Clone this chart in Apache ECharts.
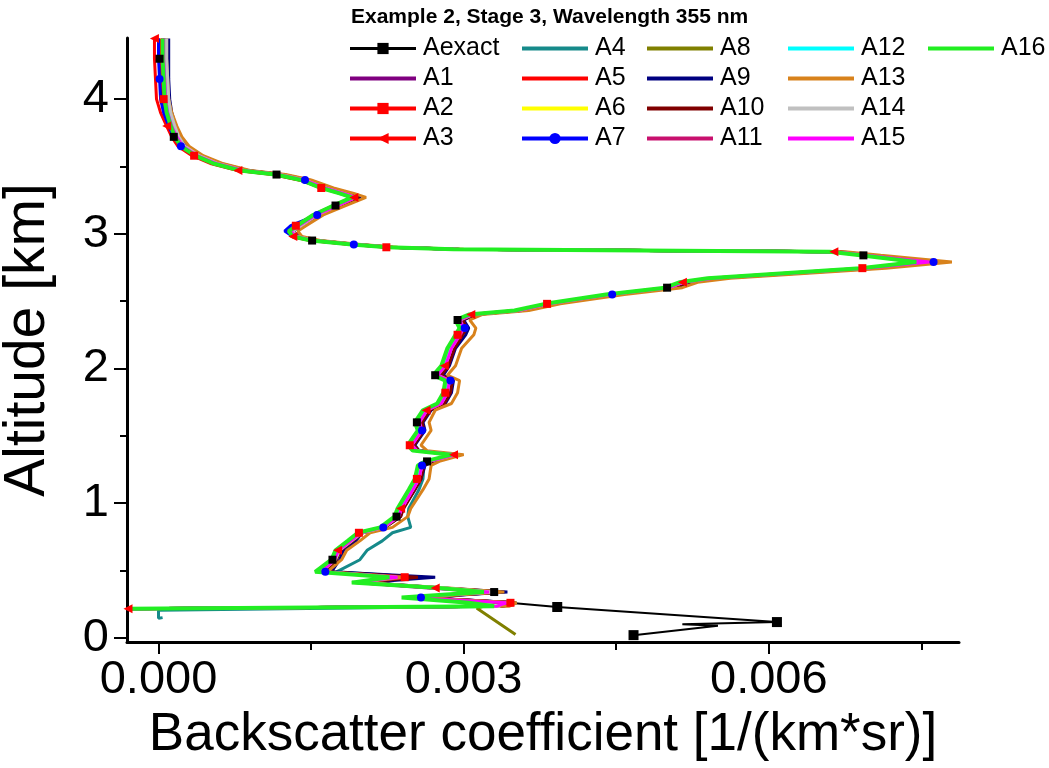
<!DOCTYPE html>
<html>
<head>
<meta charset="utf-8">
<script src="https://cdn.jsdelivr.net/npm/echarts@6/dist/echarts.min.js"></script>
<style>
  html, body { margin: 0; padding: 0; background: #fff; }
  #chart { width: 1049px; height: 768px; }
</style>
</head>
<body>
<div id="chart"></div>
<script>
// altitude grid [km], shared by all profiles (top to bottom)
const alt = [4.45, 4.30, 4.15, 4.00, 3.90, 3.80, 3.72, 3.65, 3.58, 3.52,
  3.47, 3.44, 3.40, 3.34, 3.30, 3.27, 3.21, 3.14, 3.06, 3.02,
  2.98, 2.95, 2.92, 2.90, 2.885, 2.866, 2.84, 2.79, 2.745, 2.67,
  2.64, 2.60, 2.55, 2.48, 2.43, 2.40, 2.36, 2.30, 2.25, 2.15,
  2.02, 1.95, 1.91, 1.82, 1.74, 1.69, 1.60, 1.54, 1.43, 1.39,
  1.36, 1.31, 1.28, 1.18, 1.10, 0.96, 0.90, 0.82, 0.78, 0.72,
  0.65, 0.58, 0.49, 0.45, 0.41, 0.37, 0.34, 0.30, 0.26, 0.235,
  0.215]

// backscatter values in units of 1e-3 1/(km*sr)
const aExact = [0.00, 0.01, 0.02, 0.03, 0.06, 0.10, 0.15, 0.21, 0.35, 0.55,
  0.81, 1.16, 1.41, 1.62, 1.80, 1.92, 1.74, 1.54, 1.37, 1.29,
  1.33, 1.51, 1.91, 2.26, 2.91, 6.62, 6.93, 7.40, 6.92, 5.42,
  5.14, 5.00, 4.42, 3.82, 3.52, 3.06, 2.94, 2.98, 2.94, 2.86,
  2.80, 2.72, 2.84, 2.82, 2.76, 2.62, 2.54, 2.57, 2.47, 2.52,
  2.88, 2.64, 2.57, 2.54, 2.48, 2.37, 2.34, 2.19, 1.97, 1.87,
  1.75, 1.71, 1.62, 2.35, 1.95, 2.70, 3.30, 2.50, 3.45,
  3.92, 6.08, 5.15, 5.50, 4.67]
const aExactTailAlt = [0.229, 0.117, 0.100, 0.090, 0.020]

const a1 = [0.06, 0.06, 0.07, 0.08, 0.10, 0.14, 0.19, 0.25, 0.40, 0.60,
  0.85, 1.20, 1.45, 1.66, 1.84, 1.95, 1.77, 1.56, 1.40, 1.31,
  1.36, 1.54, 1.94, 2.29, 2.94, 6.66, 6.98, 7.56, 6.98, 5.48,
  5.18, 5.04, 4.46, 3.86, 3.55, 3.10, 2.98, 3.02, 2.98, 2.90,
  2.84, 2.76, 2.88, 2.86, 2.80, 2.66, 2.58, 2.60, 2.50, 2.56,
  2.94, 2.68, 2.60, 2.57, 2.51, 2.40, 2.37, 2.22, 2.00, 1.90,
  1.78, 1.74, 1.62, 2.40, 1.95, 2.70, 3.30, 2.50, 3.45, 3.35,
  -0.30]
const a2 = [0.02, 0.02, 0.03, 0.05, 0.07, 0.11, 0.15, 0.21, 0.35, 0.54,
  0.79, 1.14, 1.39, 1.60, 1.78, 1.90, 1.72, 1.52, 1.35, 1.27,
  1.31, 1.49, 1.89, 2.24, 2.89, 6.62, 6.92, 7.50, 6.92, 5.42,
  5.14, 5.00, 4.42, 3.82, 3.52, 3.06, 2.94, 2.98, 2.94, 2.86,
  2.80, 2.72, 2.84, 2.82, 2.76, 2.62, 2.54, 2.57, 2.47, 2.52,
  2.89, 2.64, 2.57, 2.54, 2.48, 2.37, 2.34, 2.19, 1.97, 1.87,
  1.75, 1.71, 1.58, 2.42, 1.94, 2.70, 3.32, 2.50, 3.46, 3.35,
  -0.30]
const a3 = [-0.04, -0.04, -0.03, -0.02, 0.02, 0.08, 0.13, 0.19, 0.33, 0.52,
  0.78, 1.12, 1.38, 1.62, 1.80, 1.92, 1.74, 1.53, 1.36, 1.28,
  1.32, 1.50, 1.90, 2.26, 2.91, 6.64, 6.94, 7.52, 6.94, 5.44,
  5.15, 5.01, 4.43, 3.83, 3.53, 3.07, 2.95, 2.99, 2.95, 2.87,
  2.81, 2.73, 2.85, 2.83, 2.77, 2.63, 2.55, 2.57, 2.47, 2.53,
  2.90, 2.65, 2.58, 2.55, 2.49, 2.38, 2.35, 2.20, 1.98, 1.88,
  1.76, 1.72, 1.60, 2.44, 1.96, 2.72, 3.34, 2.52, 3.48, 3.36,
  -0.30]
const a4 = [0.06, 0.06, 0.07, 0.08, 0.10, 0.14, 0.19, 0.25, 0.39, 0.59,
  0.84, 1.19, 1.44, 1.65, 1.83, 1.94, 1.76, 1.55, 1.39, 1.30,
  1.35, 1.53, 1.93, 2.28, 2.93, 6.64, 6.96, 7.55, 6.96, 5.46,
  5.17, 5.03, 4.45, 3.85, 3.54, 3.09, 2.97, 3.01, 2.97, 2.89,
  2.83, 2.75, 2.87, 2.85, 2.79, 2.66, 2.58, 2.60, 2.50, 2.55,
  2.92, 2.68, 2.61, 2.60, 2.56, 2.46, 2.45, 2.48, 2.30, 2.20,
  2.05, 1.98, 1.75, 2.55, 2.00, 2.78, 3.38, 2.55, 3.52, 3.35,
  0.00, 0.00, 0.04]
const a4TailAlt = [0.205, 0.145, 0.150]
const a5 = [0.04, 0.04, 0.05, 0.06, 0.09, 0.13, 0.18, 0.24, 0.38, 0.57,
  0.83, 1.17, 1.42, 1.63, 1.81, 1.93, 1.75, 1.54, 1.38, 1.30,
  1.34, 1.52, 1.92, 2.27, 2.92, 6.68, 6.99, 7.60, 7.00, 5.50,
  5.17, 5.03, 4.45, 3.85, 3.54, 3.08, 2.96, 3.00, 2.96, 2.88,
  2.82, 2.74, 2.86, 2.84, 2.78, 2.64, 2.56, 2.58, 2.48, 2.54,
  2.90, 2.66, 2.58, 2.55, 2.50, 2.38, 2.35, 2.20, 1.98, 1.88,
  1.76, 1.72, 1.62, 2.50, 1.98, 2.75, 3.38, 2.55, 3.50, 3.38,
  -0.30]
const a6 = [0.06, 0.06, 0.07, 0.08, 0.10, 0.14, 0.18, 0.24, 0.38, 0.57,
  0.82, 1.17, 1.42, 1.62, 1.80, 1.92, 1.74, 1.54, 1.38, 1.30,
  1.34, 1.52, 1.92, 2.27, 2.92, 6.62, 6.92, 7.48, 6.92, 5.42,
  5.14, 5.00, 4.42, 3.82, 3.52, 3.07, 2.94, 2.98, 2.94, 2.86,
  2.80, 2.72, 2.84, 2.82, 2.76, 2.62, 2.54, 2.57, 2.47, 2.52,
  2.90, 2.64, 2.57, 2.54, 2.48, 2.37, 2.34, 2.20, 1.98, 1.88,
  1.76, 1.72, 1.56, 2.30, 1.92, 2.78, 3.24, 2.42, 3.08, 3.32,
  -0.30]
const a7 = [0.00, 0.00, 0.01, 0.02, 0.05, 0.10, 0.15, 0.22, 0.36, 0.56,
  0.82, 1.18, 1.44, 1.66, 1.86, 1.96, 1.78, 1.56, 1.30, 1.24,
  1.32, 1.52, 1.92, 2.27, 2.92, 6.66, 6.97, 7.62, 6.98, 5.47,
  5.20, 5.05, 4.46, 3.86, 3.55, 3.09, 2.97, 3.01, 2.97, 2.89,
  2.83, 2.75, 2.87, 2.85, 2.79, 2.65, 2.57, 2.59, 2.49, 2.54,
  2.91, 2.67, 2.59, 2.56, 2.50, 2.39, 2.36, 2.21, 1.99, 1.89,
  1.77, 1.73, 1.64, 2.60, 2.00, 2.78, 3.40, 2.58, 3.50, 3.38,
  -0.30]
const a8 = [0.06, 0.06, 0.07, 0.08, 0.10, 0.14, 0.19, 0.25, 0.39, 0.58,
  0.84, 1.18, 1.43, 1.64, 1.82, 1.94, 1.76, 1.55, 1.38, 1.30,
  1.35, 1.53, 1.93, 2.28, 2.93, 6.65, 6.96, 7.56, 6.96, 5.46,
  5.16, 5.02, 4.44, 3.84, 3.54, 3.08, 2.96, 3.00, 2.96, 2.88,
  2.82, 2.74, 2.86, 2.84, 2.78, 2.64, 2.56, 2.59, 2.49, 2.54,
  2.91, 2.66, 2.59, 2.56, 2.50, 2.39, 2.36, 2.21, 1.99, 1.89,
  1.77, 1.73, 1.62, 2.45, 1.96, 2.72, 3.35, 2.52, 3.40, 3.20,
  3.13, 3.51]
const a8TailAlt = [0.220, 0.025]
const a9 = [0.10, 0.10, 0.10, 0.11, 0.13, 0.17, 0.22, 0.28, 0.42, 0.62,
  0.88, 1.22, 1.48, 1.70, 1.88, 1.99, 1.80, 1.58, 1.40, 1.32,
  1.38, 1.56, 1.96, 2.30, 2.96, 6.70, 7.02, 7.68, 7.05, 5.52,
  5.22, 5.08, 4.50, 3.90, 3.58, 3.12, 3.00, 3.05, 3.02, 2.92,
  2.86, 2.80, 2.90, 2.88, 2.82, 2.68, 2.60, 2.62, 2.52, 2.56,
  2.92, 2.70, 2.62, 2.58, 2.52, 2.40, 2.38, 2.22, 2.00, 1.94,
  1.82, 1.78, 1.70, 2.72, 2.05, 2.80, 3.43, 2.60, 3.51, 3.40,
  -0.30]
const a10 = [0.07, 0.07, 0.08, 0.09, 0.11, 0.15, 0.20, 0.26, 0.40, 0.60,
  0.86, 1.21, 1.46, 1.67, 1.86, 1.97, 1.78, 1.57, 1.40, 1.32,
  1.37, 1.55, 1.95, 2.30, 2.95, 6.68, 7.00, 7.60, 7.00, 5.50,
  5.20, 5.06, 4.48, 3.88, 3.56, 3.11, 2.99, 3.03, 2.99, 2.91,
  2.85, 2.78, 2.89, 2.87, 2.81, 2.67, 2.59, 2.61, 2.51, 2.56,
  2.93, 2.69, 2.61, 2.58, 2.52, 2.41, 2.38, 2.23, 2.01, 1.91,
  1.79, 1.75, 1.64, 2.55, 2.00, 2.76, 3.36, 2.55, 3.48, 3.37,
  -0.30]
const a11 = [0.05, 0.05, 0.06, 0.07, 0.09, 0.13, 0.18, 0.24, 0.39, 0.59,
  0.84, 1.19, 1.44, 1.65, 1.83, 1.94, 1.76, 1.55, 1.39, 1.30,
  1.35, 1.53, 1.93, 2.28, 2.93, 6.63, 6.95, 7.52, 6.95, 5.45,
  5.16, 5.02, 4.44, 3.84, 3.53, 3.09, 2.97, 3.00, 2.97, 2.88,
  2.82, 2.75, 2.86, 2.84, 2.78, 2.64, 2.57, 2.59, 2.49, 2.54,
  2.91, 2.66, 2.59, 2.56, 2.50, 2.39, 2.36, 2.21, 1.99, 1.89,
  1.77, 1.73, 1.60, 2.45, 1.96, 2.72, 3.35, 2.52, 3.48, 3.36,
  -0.30]
const a12 = [0.07, 0.07, 0.08, 0.09, 0.11, 0.15, 0.19, 0.25, 0.39, 0.58,
  0.83, 1.18, 1.43, 1.63, 1.81, 1.93, 1.75, 1.55, 1.39, 1.31,
  1.35, 1.53, 1.93, 2.28, 2.93, 6.63, 6.93, 7.50, 6.93, 5.43,
  5.15, 5.01, 4.43, 3.83, 3.53, 3.08, 2.95, 2.99, 2.95, 2.87,
  2.81, 2.73, 2.85, 2.83, 2.77, 2.63, 2.55, 2.58, 2.48, 2.53,
  2.91, 2.65, 2.58, 2.55, 2.49, 2.38, 2.35, 2.21, 1.99, 1.89,
  1.77, 1.73, 1.58, 2.32, 1.94, 2.80, 3.26, 2.44, 3.10, 3.34,
  -0.30]
const a13 = [0.08, 0.08, 0.09, 0.10, 0.13, 0.18, 0.23, 0.30, 0.44, 0.64,
  0.90, 1.25, 1.50, 1.72, 1.92, 2.04, 1.84, 1.62, 1.45, 1.37,
  1.41, 1.59, 1.99, 2.35, 3.00, 6.75, 7.10, 7.80, 7.15, 5.62,
  5.30, 5.15, 4.58, 3.95, 3.64, 3.18, 3.06, 3.12, 3.10, 2.98,
  2.92, 2.84, 2.96, 2.94, 2.88, 2.72, 2.66, 2.68, 2.58, 2.64,
  3.00, 2.76, 2.68, 2.66, 2.60, 2.48, 2.45, 2.30, 2.08, 1.98,
  1.85, 1.80, 1.66, 2.40, 1.98, 2.85, 3.40, 2.55, 3.52, 3.45,
  -0.30]
const a14 = [0.08, 0.08, 0.09, 0.10, 0.12, 0.16, 0.20, 0.26, 0.40, 0.59,
  0.84, 1.19, 1.44, 1.64, 1.82, 1.94, 1.76, 1.56, 1.40, 1.32,
  1.36, 1.54, 1.94, 2.29, 2.94, 6.64, 6.94, 7.52, 6.94, 5.44,
  5.16, 5.02, 4.44, 3.84, 3.54, 3.09, 2.96, 3.00, 2.96, 2.88,
  2.82, 2.74, 2.86, 2.84, 2.78, 2.64, 2.56, 2.59, 2.49, 2.54,
  2.92, 2.66, 2.59, 2.56, 2.50, 2.39, 2.36, 2.22, 2.00, 1.90,
  1.78, 1.74, 1.60, 2.34, 1.96, 2.82, 3.28, 2.46, 3.12, 3.36,
  -0.30]
const a15 = [0.05, 0.05, 0.06, 0.07, 0.09, 0.13, 0.18, 0.24, 0.38, 0.58,
  0.84, 1.18, 1.43, 1.64, 1.82, 1.94, 1.76, 1.55, 1.38, 1.30,
  1.35, 1.53, 1.93, 2.28, 2.93, 6.64, 6.96, 7.58, 6.96, 5.46,
  5.16, 5.02, 4.44, 3.84, 3.54, 3.08, 2.96, 3.00, 2.96, 2.88,
  2.82, 2.74, 2.86, 2.84, 2.78, 2.64, 2.56, 2.59, 2.49, 2.54,
  2.92, 2.66, 2.59, 2.56, 2.50, 2.39, 2.36, 2.21, 1.99, 1.89,
  1.77, 1.73, 1.60, 2.35, 1.93, 2.65, 3.25, 2.45, 3.42, 3.33,
  -0.30]
const a16 = [0.04, 0.04, 0.05, 0.06, 0.08, 0.12, 0.16, 0.22, 0.36, 0.55,
  0.80, 1.15, 1.40, 1.60, 1.78, 1.90, 1.72, 1.52, 1.36, 1.28,
  1.32, 1.50, 1.90, 2.25, 2.90, 6.60, 6.90, 7.45, 6.90, 5.40,
  5.12, 4.98, 4.40, 3.80, 3.50, 3.05, 2.92, 2.96, 2.92, 2.84,
  2.78, 2.70, 2.82, 2.80, 2.74, 2.60, 2.52, 2.55, 2.45, 2.50,
  2.88, 2.62, 2.55, 2.52, 2.46, 2.35, 2.32, 2.18, 1.96, 1.86,
  1.74, 1.70, 1.54, 2.27, 1.90, 2.75, 3.20, 2.39, 3.05, 3.30,
  -0.30]

// axis ticks
const xMajorTicks = [0, 0.003, 0.006]
const xMinorTicks = [0.0015, 0.0045, 0.0075]
const yMajorTicks = [0, 1, 2, 3, 4]
const yMinorTicks = [0.5, 1.5, 2.5, 3.5]

const FONT = '"Liberation Sans", Arial, sans-serif'

// 把x值(1e-3单位)和高度拼成点
function toPoints(xs, ys) {
  return xs.map((x, i) => [x * 1e-3, ys[i]])
}

const profiles = [
  { name: 'Aexact', color: '#000000', xs: aExact, ys: alt.slice(0, 69).concat(aExactTailAlt), width: 2, symbol: 'rect', size: 8, every: 5, from: 1, markTail: [69, 70, 73] },
  { name: 'A1', color: '#800080', xs: a1, ys: alt },
  { name: 'A2', color: '#ff0000', xs: a2, ys: alt, symbol: 'rect', size: 8, every: 5, from: 3 },
  { name: 'A3', color: '#ff0000', xs: a3, ys: alt, symbol: 'triangle', rotate: 90, size: 9, every: 5, from: 0 },
  { name: 'A4', color: '#168a8a', xs: a4, ys: alt.slice(0, 70).concat(a4TailAlt) },
  { name: 'A5', color: '#ff0000', xs: a5, ys: alt },
  { name: 'A6', color: '#ffff00', xs: a6, ys: alt },
  { name: 'A7', color: '#0000ff', xs: a7, ys: alt, symbol: 'circle', size: 8, every: 5, from: 2 },
  { name: 'A8', color: '#808000', xs: a8, ys: alt.slice(0, 70).concat(a8TailAlt) },
  { name: 'A9', color: '#000080', xs: a9, ys: alt },
  { name: 'A10', color: '#800000', xs: a10, ys: alt },
  { name: 'A11', color: '#c8106e', xs: a11, ys: alt },
  { name: 'A12', color: '#00ffff', xs: a12, ys: alt },
  { name: 'A13', color: '#d8821c', xs: a13, ys: alt },
  { name: 'A14', color: '#c0c0c0', xs: a14, ys: alt },
  { name: 'A15', color: '#ff00ff', xs: a15, ys: alt },
  { name: 'A16', color: '#22ee22', xs: a16, ys: alt, width: 4 }
]

const series = profiles.map(p => {
  const s = {
    name: p.name,
    type: 'line',
    xAxisIndex: 0,
    yAxisIndex: 0,
    data: toPoints(p.xs, p.ys),
    lineStyle: { color: p.color, width: p.width || 3 },
    itemStyle: { color: p.color },
    emphasis: { disabled: true },
    animation: false
  }
  if (p.symbol) {
    s.symbol = p.symbol
    s.symbolRotate = p.rotate || 0
    s.showSymbol = true
    s.symbolSize = (v, params) => {
      const i = params.dataIndex
      if (p.markTail && i >= 69) return p.markTail.indexOf(i) >= 0 ? 10 : 0
      return i % p.every === p.from ? p.size : 0
    }
  } else {
    s.symbol = 'none'
  }
  return s
})

// 图例分五列
function legendItem(name) {
  const p = profiles.find(q => q.name === name)
  const item = { name: name }
  if (!p.symbol) item.itemStyle = { opacity: 0 }
  if (name === 'Aexact') item.lineStyle = { width: 3 }
  return item
}
const legendCols = [
  { left: 348, names: ['Aexact', 'A1', 'A2', 'A3'] },
  { left: 520, names: ['A4', 'A5', 'A6', 'A7'] },
  { left: 645, names: ['A8', 'A9', 'A10', 'A11'] },
  { left: 786, names: ['A12', 'A13', 'A14', 'A15'] },
  { left: 926, names: ['A16'] }
]
const legends = legendCols.map(c => ({
  left: c.left,
  top: 36,
  orient: 'vertical',
  padding: 0,
  itemWidth: 66,
  itemHeight: 14,
  itemGap: 5,
  selectedMode: false,
  lineStyle: { width: 4 },
  textStyle: { fontSize: 25, lineHeight: 24, color: '#000', fontFamily: FONT, padding: [0, 0, 0, 2] },
  data: c.names.map(legendItem)
}))

const chart = echarts.init(document.getElementById('chart'), null, { renderer: 'canvas' })
const option = {
  backgroundColor: '#fff',
  animation: false,
  title: {
    text: 'Example 2, Stage 3, Wavelength 355 nm',
    left: 351,
    top: 7,
    padding: 0,
    textStyle: { fontSize: 21, fontWeight: 'bold', color: '#000', fontFamily: FONT }
  },
  legend: legends,
  grid: { left: 127, right: 90, top: 38, bottom: 126, containLabel: false, outerBoundsMode: 'none' },
  xAxis: [
    {
      type: 'value',
      position: 'bottom',
      min: -0.00031,
      max: 0.00787,
      name: 'Backscatter coefficient [1/(km*sr)]',
      nameLocation: 'middle',
      nameGap: 64,
      nameTextStyle: { fontSize: 53, color: '#000', fontFamily: FONT },
      axisLine: { onZero: false, lineStyle: { color: '#000', width: 3 } },
      axisTick: { customValues: xMajorTicks, length: 12, lineStyle: { color: '#000', width: 2 } },
      axisLabel: {
        customValues: xMajorTicks,
        formatter: v => v.toFixed(3),
        fontSize: 47,
        margin: 15,
        color: '#000',
        fontFamily: FONT
      },
      splitLine: { show: false }
    },
    {
      type: 'value',
      position: 'bottom',
      min: -0.00031,
      max: 0.00787,
      axisLine: { show: false, onZero: false },
      axisTick: { customValues: xMinorTicks, length: 8, lineStyle: { color: '#000', width: 2 } },
      axisLabel: { show: false },
      splitLine: { show: false }
    }
  ],
  yAxis: [
    {
      type: 'value',
      position: 'left',
      min: -0.031,
      max: 4.454,
      name: 'Altitude [km]',
      nameLocation: 'middle',
      nameGap: 70,
      nameTextStyle: { fontSize: 57, color: '#000', fontFamily: FONT },
      axisLine: { show: true, onZero: false, lineStyle: { color: '#000', width: 3 } },
      axisTick: { show: true, customValues: yMajorTicks, length: 13, lineStyle: { color: '#000', width: 2 } },
      axisLabel: { customValues: yMajorTicks, fontSize: 47, margin: 18, color: '#000', fontFamily: FONT },
      splitLine: { show: false }
    },
    {
      type: 'value',
      position: 'left',
      min: -0.031,
      max: 4.454,
      axisLine: { show: false, onZero: false },
      axisTick: { show: true, customValues: yMinorTicks, length: 7, lineStyle: { color: '#000', width: 2 } },
      axisLabel: { show: false },
      splitLine: { show: false }
    }
  ],
  series: series
}
chart.setOption(option)
</script>
</body>
</html>
